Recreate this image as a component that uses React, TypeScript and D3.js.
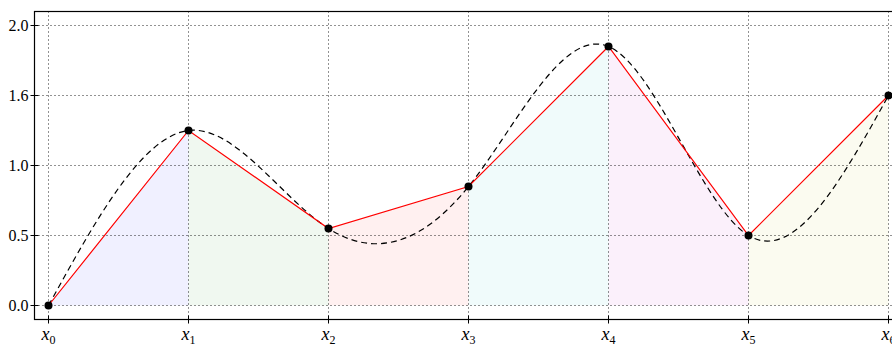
import React from "react";
import * as d3 from "d3";

const xLabels = ["0", "1", "2", "3", "4", "5", "6"];
const xValues = [0, 1, 2, 3, 4, 5, 6];
const yValues = [0.0, 1.25, 0.55, 0.85, 1.85, 0.5, 1.5];
const yTicks = [0, 0.5, 1.0, 1.5, 2.0];
const yTickLabels = ["0.0", "0.5", "1.0", "1.6", "2.0"];
const segmentColors = ["#0000ff", "#008000", "#ff0000", "#00bfbf", "#bf00bf", "#bfbf00"];

const W = 892;
const H = 345;

export default function App() {
  const x = d3.scaleLinear().domain([-0.1, 6.1]).range([34.5, 902.5]);
  const y = d3.scaleLinear().domain([-0.1, 2.1]).range([319.5, 11.5]);

  const pts: [number, number][] = xValues.map((v, i) => [v, yValues[i]]);

  const line = d3
    .line<[number, number]>()
    .x((d) => x(d[0]))
    .y((d) => y(d[1]));
  const smooth = d3
    .line<[number, number]>()
    .x((d) => x(d[0]))
    .y((d) => y(d[1]))
    .curve(d3.curveNatural);
  const area = d3
    .area<[number, number]>()
    .x((d) => x(d[0]))
    .y0(y(0))
    .y1((d) => y(d[1]));

  const fontFamily = "'Liberation Serif', 'DejaVu Serif', serif";
  const x0 = x(-0.1);
  const x1 = x(6.1);
  const yTop = y(2.1);
  const yBot = y(-0.1);

  return (
    <svg width={W} height={H} style={{ position: "absolute", left: 0, top: 0, background: "#fff" }}>
      <defs>
        <clipPath id="plot">
          <rect x={x0} y={yTop} width={x1 - x0} height={yBot - yTop} />
        </clipPath>
      </defs>
      {/* shaded segments under the polyline */}
      <g clipPath="url(#plot)">
        {pts.slice(0, -1).map((p, i) => (
          <path
            key={i}
            d={area([p, pts[i + 1]]) || ""}
            fill={segmentColors[i]}
            fillOpacity={0.06}
          />
        ))}
      </g>
      {/* grid */}
      <g stroke="#000" strokeWidth={1} strokeDasharray="1,3" opacity={0.85}>
        {xValues.map((v) => (
          <line key={"gx" + v} x1={x(v)} x2={x(v)} y1={yTop} y2={yBot} />
        ))}
        {yTicks.map((v) => (
          <line key={"gy" + v} x1={x0} x2={x1} y1={y(v)} y2={y(v)} />
        ))}
      </g>
      <g clipPath="url(#plot)">
        <path d={smooth(pts) || ""} fill="none" stroke="#000" strokeWidth={1.2} strokeDasharray="6,4" />
        <path d={line(pts) || ""} fill="none" stroke="#ff0000" strokeWidth={1.2} />
      </g>
      {pts.map((p, i) => (
        <circle key={i} cx={x(p[0])} cy={y(p[1])} r={4} fill="#000" />
      ))}
      {/* frame */}
      <rect x={x0} y={yTop} width={x1 - x0} height={yBot - yTop} fill="none" stroke="#000" strokeWidth={1.2} />
      {/* ticks */}
      <g stroke="#000" strokeWidth={1}>
        {xValues.map((v) => (
          <line key={"tx" + v} x1={x(v)} x2={x(v)} y1={yBot - 4} y2={yBot + 4} />
        ))}
        {yTicks.map((v) => (
          <line key={"ty" + v} x1={x0 - 4} x2={x0 + 4} y1={y(v)} y2={y(v)} />
        ))}
      </g>
      {yTickLabels.map((t, i) => (
        <text
          key={"yl" + i}
          x={x0 - 6}
          y={y(yTicks[i])}
          dy="0.35em"
          textAnchor="end"
          fontFamily={fontFamily}
          fontSize={16}
          fill="#000"
        >
          {t}
        </text>
      ))}
      {xLabels.map((t, i) => (
        <text
          key={"xl" + i}
          x={x(xValues[i])}
          y={yBot + 20}
          textAnchor="middle"
          fontFamily={fontFamily}
          fontSize={18}
          fill="#000"
        >
          <tspan fontStyle="italic">x</tspan>
          <tspan fontSize={12} dy={4}>
            {t}
          </tspan>
        </text>
      ))}
    </svg>
  );
}
